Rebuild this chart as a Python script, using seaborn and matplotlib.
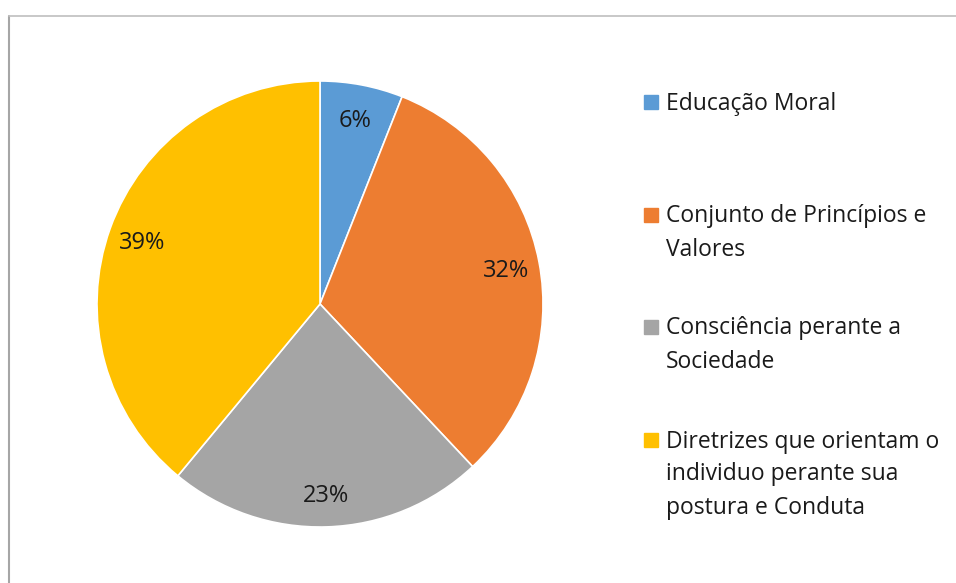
import matplotlib
matplotlib.use("Agg")
import matplotlib.pyplot as plt
from matplotlib.patches import Rectangle
from matplotlib.lines import Line2D
import seaborn as sns

categories = [
    "Educação Moral",
    "Conjunto de Princípios e\nValores",
    "Consciência perante a\nSociedade",
    "Diretrizes que orientam o\nindividuo perante sua\npostura e Conduta",
]
shares = [6, 32, 23, 39]
colors = ["#5B9BD5", "#ED7D31", "#A5A5A5", "#FFC000"]

sns.set_theme(style="white")
plt.rcParams["font.family"] = ["Open Sans", "DejaVu Sans"]

W, H = 956, 583
fig = plt.figure(figsize=(W / 100, H / 100), dpi=100)

# chart frame (top and left edges visible)
fig.add_artist(Line2D([8.5 / W, 8.5 / W], [0, 1 - 16 / H], color="#A6A6A6", lw=1.5,
                      transform=fig.transFigure))
fig.add_artist(Line2D([8.5 / W, 1], [1 - 16 / H, 1 - 16 / H], color="#BFBFBF", lw=1.2,
                      transform=fig.transFigure))

cx, cy, r = 320, 304, 223
ax = fig.add_axes([(cx - r) / W, (H - cy - r) / H, 2 * r / W, 2 * r / H])
wedges, texts, autotexts = ax.pie(
    shares, colors=colors, startangle=90, counterclock=False,
    autopct="%1.0f%%", pctdistance=0.85,
    wedgeprops=dict(edgecolor="white", linewidth=1.2),
    textprops=dict(fontsize=17, color="#1a1a1a"),
)
for t in autotexts:
    t.set_verticalalignment("center_baseline")
ax.set_aspect("equal")
ax.set_xlim(-1, 1)
ax.set_ylim(-1, 1)
ax.axis("off")

# legend drawn entry by entry
first_lines = [102, 215, 327, 440]
line_gap = 33
for label, color, y0 in zip(categories, colors, first_lines):
    fig.add_artist(Rectangle((644 / W, 1 - (y0 + 7) / H), 14 / W, 14 / H,
                             color=color, transform=fig.transFigure))
    for i, line in enumerate(label.split("\n")):
        fig.text(666 / W, 1 - (y0 + 7.5 + i * line_gap) / H, line, fontsize=16.5,
                 color="#1a1a1a", va="baseline", ha="left")

fig.savefig("out.png", dpi=100, facecolor="white")
